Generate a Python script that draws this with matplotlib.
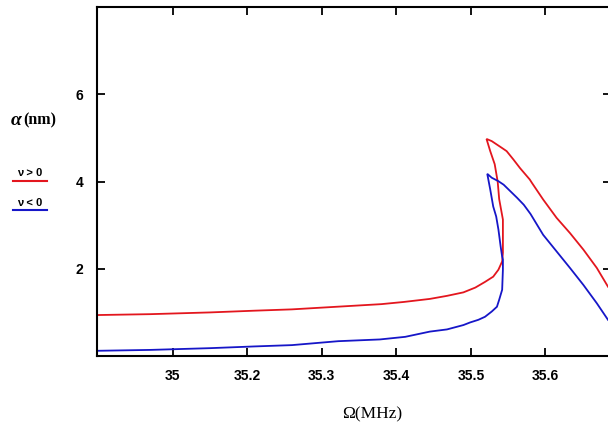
import matplotlib
matplotlib.use("Agg")
import matplotlib.pyplot as plt
from matplotlib.lines import Line2D

# ---- data ----
red_x = [35.0, 35.07, 35.15, 35.21, 35.26, 35.32, 35.38, 35.41, 35.445, 35.468,
         35.49, 35.506, 35.519, 35.53, 35.537, 35.542, 35.543, 35.543, 35.538,
         35.536, 35.532, 35.526, 35.521,
         35.528, 35.535, 35.542, 35.548, 35.557, 35.566, 35.579, 35.582, 35.597,
         35.615, 35.633, 35.651, 35.669, 35.684]
red_y = [0.94, 0.96, 1.00, 1.04, 1.07, 1.13, 1.19, 1.24, 1.31, 1.38,
         1.46, 1.57, 1.70, 1.82, 1.98, 2.17, 2.37, 3.13, 3.60,
         4.00, 4.40, 4.70, 4.98,
         4.93, 4.85, 4.77, 4.70, 4.51, 4.31, 4.05, 3.97, 3.59,
         3.17, 2.82, 2.44, 2.02, 1.59]

blue_x = [35.0, 35.07, 35.15, 35.21, 35.26, 35.322, 35.378, 35.412, 35.445,
          35.468, 35.49, 35.499, 35.51, 35.519, 35.528, 35.535, 35.538, 35.542,
          35.543, 35.543, 35.542, 35.540, 35.537, 35.534, 35.530, 35.526, 35.522,
          35.528, 35.537, 35.544, 35.553, 35.562, 35.571, 35.580, 35.597, 35.615,
          35.633, 35.651, 35.669, 35.684]
blue_y = [0.12, 0.14, 0.18, 0.22, 0.25, 0.34, 0.38, 0.44, 0.56,
          0.61, 0.71, 0.77, 0.83, 0.90, 1.02, 1.13, 1.29, 1.52,
          1.98, 2.21, 2.28, 2.51, 2.90, 3.20, 3.43, 3.82, 4.18,
          4.09, 4.01, 3.93, 3.78, 3.63, 3.47, 3.26, 2.78, 2.40,
          2.02, 1.63, 1.21, 0.83]

x_ticks = [35.1, 35.2, 35.3, 35.4, 35.5, 35.6]
x_tick_labels = ["35", "35.2", "35.3", "35.4", "35.5", "35.6"]
y_ticks = [2, 4, 6]
y_tick_labels = ["2", "4", "6"]

RED = "#e3161e"
BLUE = "#1616c8"

fig = plt.figure(figsize=(6.08, 4.26), dpi=100)
ax = fig.add_axes([0.160, 0.1643, 0.8449, 0.8186])

ax.plot(red_x, red_y, color=RED, lw=1.3, solid_joinstyle="miter")
ax.plot(blue_x, blue_y, color=BLUE, lw=1.3, solid_joinstyle="miter")

ax.set_xlim(34.9988, 35.688)
ax.set_ylim(0, 8)

ax.set_xticks(x_ticks)
ax.set_xticklabels(x_tick_labels)
ax.set_yticks(y_ticks)
ax.set_yticklabels(y_tick_labels)

for lab in ax.get_xticklabels() + ax.get_yticklabels():
    lab.set_fontfamily("Liberation Sans")
    lab.set_fontweight("bold")
    lab.set_fontsize(10)

ax.tick_params(direction="in", length=6, width=1.3, top=True, right=True,
               color="black")
ax.tick_params(axis="x", pad=9)
ax.tick_params(axis="y", pad=10)
for s in ax.spines.values():
    s.set_linewidth(1.5)

# y label
fig.text(11 / 608, 1 - 120 / 426, "α", fontfamily="Liberation Serif",
         fontstyle="italic", fontweight="bold", fontsize=14,
         va="center", ha="left")
fig.text(23.5 / 608, 1 - 120 / 426, "(nm)", fontfamily="Liberation Serif",
         fontweight="bold", fontsize=11.5, va="center", ha="left")

# legend-like labels
fig.text(30 / 608, 1 - 173 / 426, "ν > 0", fontfamily="Liberation Sans",
         fontsize=8, fontweight="bold", va="center", ha="center")
fig.add_artist(Line2D([13 / 608, 47 / 608], [1 - 180.5 / 426, 1 - 180.5 / 426],
                      color=RED, lw=1.5))
fig.text(30 / 608, 1 - 203 / 426, "ν < 0", fontfamily="Liberation Sans",
         fontsize=8, fontweight="bold", va="center", ha="center")
fig.add_artist(Line2D([13 / 608, 47 / 608], [1 - 209.5 / 426, 1 - 209.5 / 426],
                      color=BLUE, lw=1.5))

# x label
fig.text(372 / 608, 1 - 414 / 426, "Ω(MHz)", fontfamily="Liberation Serif",
         fontsize=12.5, va="center", ha="center")

fig.savefig("out.png", dpi=100)
